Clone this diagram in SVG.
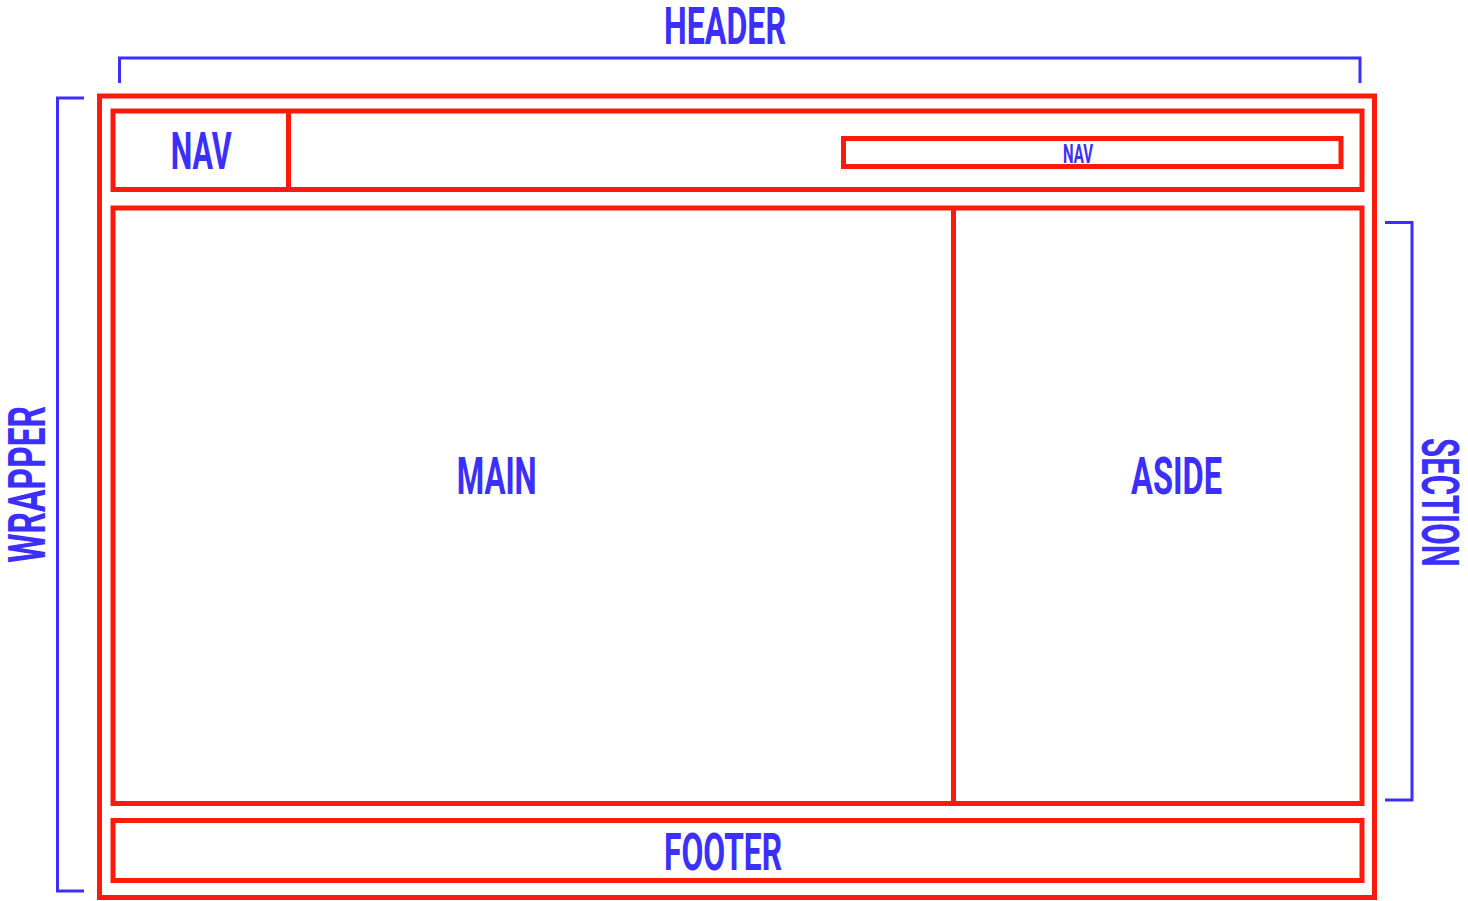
<svg xmlns="http://www.w3.org/2000/svg" width="1468" height="901" viewBox="0 0 1468 901">
<style>
.box{fill:none;stroke:#fb1a0c;stroke-width:5}
.br{fill:none;stroke:#3c2ffb;stroke-width:3}
.t{font-family:Roboto,"Liberation Sans",sans-serif;font-weight:700;fill:#3c2ffb;font-size:52px}
.s{font-size:25px}
</style>
<rect width="1468" height="901" fill="#fff"/>
<g id="brackets">
<path id="header-bracket" class="br" d="M119.5,83 V58 H1360 V83"/>
<path id="wrapper-bracket" class="br" d="M84,98 H57.5 V891 H84"/>
<path id="section-bracket" class="br" d="M1385,222.5 H1412 V800 H1385"/>
</g>
<g id="wrapper"><rect class="box" x="99.5" y="96" width="1275" height="801.5"/></g>
<g id="header"><rect class="box" x="113" y="111" width="1249" height="78.5"/></g>
<g id="nav-left"><line class="box" x1="288.5" y1="111" x2="288.5" y2="189.5"/>
<text class="t" x="170.7" y="169" textLength="61" lengthAdjust="spacingAndGlyphs">NAV</text></g>
<g id="nav-right"><rect class="box" x="843.5" y="138.5" width="497.5" height="28"/>
<text class="t s" x="1063" y="162.7" textLength="30" lengthAdjust="spacingAndGlyphs">NAV</text></g>
<g id="section"><rect class="box" x="113" y="208" width="1249" height="595.5"/>
<line class="box" x1="953.5" y1="208" x2="953.5" y2="803.5"/></g>
<g id="main"><text class="t" x="456.7" y="494.3" textLength="80" lengthAdjust="spacingAndGlyphs">MAIN</text></g>
<g id="aside"><text class="t" x="1131" y="494.3" textLength="91" lengthAdjust="spacingAndGlyphs">ASIDE</text></g>
<g id="footer"><rect class="box" x="113" y="820.5" width="1249" height="60"/>
<text class="t" x="664" y="870" textLength="118" lengthAdjust="spacingAndGlyphs">FOOTER</text></g>
<g id="labels">
<text class="t" x="664" y="44.3" textLength="122" lengthAdjust="spacingAndGlyphs">HEADER</text>
<text class="t" transform="translate(45,562.7) rotate(-90)" x="0" y="0" textLength="156.7" lengthAdjust="spacingAndGlyphs">WRAPPER</text>
<text class="t" transform="translate(1421.7,438) rotate(90)" x="0" y="0" textLength="128.7" lengthAdjust="spacingAndGlyphs">SECTION</text>
</g>
</svg>
